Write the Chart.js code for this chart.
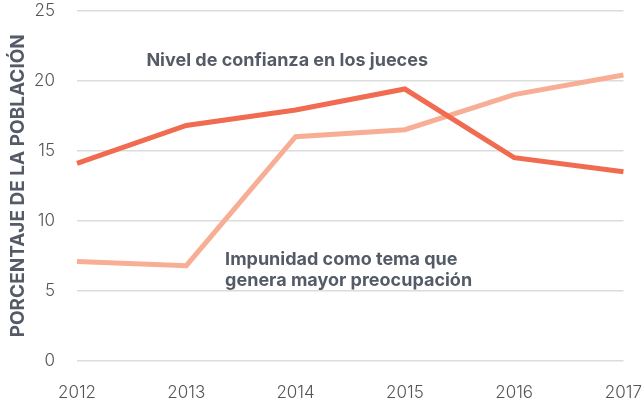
<!DOCTYPE html>
<html>
<head>
<meta charset="utf-8">
<script src="https://cdn.jsdelivr.net/npm/chart.js@4"></script>
<style>
  html, body { margin: 0; padding: 0; background: #fff; }
  #wrap { width: 643px; height: 405px; }
</style>
</head>
<body>
<div id="wrap"><canvas id="myChart" width="643" height="405"></canvas></div>
<script>
const years = ["2012", "2013", "2014", "2015", "2016", "2017"];
const confianzaJueces = [14.1, 16.8, 17.9, 19.4, 14.5, 13.5];
const impunidad = [7.1, 6.8, 16.0, 16.5, 19.0, 20.4];
const yTicks = [0, 5, 10, 15, 20, 25];

const textGray = "#555b66";
const tickFont = { family: "Inter, 'Noto Sans', sans-serif", size: 17, weight: 300, lineHeight: 1 };

// labels written next to each line, placed in data/area coordinates
const notes = [
  { lines: ["Nivel de confianza en los jueces"], xFrac: 0.127, y: 21.45 },
  { lines: ["Impunidad como tema que", "genera mayor preocupación"], xFrac: 0.271, y: 7.2 },
];

const notePlugin = {
  id: "notes",
  afterDatasetsDraw(chart) {
    const { ctx, chartArea, scales } = chart;
    ctx.save();
    ctx.font = "bold 18px Inter, 'Noto Sans', sans-serif";
    ctx.fillStyle = textGray;
    ctx.textAlign = "left";
    ctx.textBaseline = "middle";
    notes.forEach((n) => {
      const x = chartArea.left + n.xFrac * (chartArea.right - chartArea.left);
      const y0 = scales.y.getPixelForValue(n.y);
      n.lines.forEach((line, i) => ctx.fillText(line, x, y0 + i * 21));
    });
    ctx.restore();
  },
};

new Chart(document.getElementById("myChart").getContext("2d"), {
  type: "line",
  data: {
    labels: years,
    datasets: [
      {
        label: "Nivel de confianza en los jueces",
        data: confianzaJueces,
        borderColor: "#f06b4f",
        borderWidth: 5,
        pointRadius: 0,
        tension: 0,
        fill: false,
      },
      {
        label: "Impunidad como tema que genera mayor preocupación",
        data: impunidad,
        borderColor: "#f7ae95",
        borderWidth: 5,
        pointRadius: 0,
        tension: 0,
        fill: false,
      },
    ],
  },
  options: {
    responsive: false,
    animation: false,
    layout: { padding: { top: 0, left: 4, right: 0, bottom: 0 } },
    plugins: { legend: { display: false }, tooltip: { enabled: false } },
    scales: {
      x: {
        offset: false,
        // invisible tick marks push the year labels down without adding side padding
        grid: { display: true, drawOnChartArea: false, drawTicks: true, tickLength: 22, tickColor: "transparent" },
        border: { display: false },
        afterFit(axis) {
          axis.height = 44;
        },
        ticks: { color: "#555", padding: 1, maxRotation: 0, font: tickFont },
      },
      y: {
        min: 0,
        max: 25,
        afterBuildTicks(axis) {
          axis.ticks = yTicks.map((v) => ({ value: v }));
        },
        afterFit(axis) {
          axis.width = 73;
        },
        grid: { color: "#dcdcdc", lineWidth: 1.5, drawTicks: true, tickLength: 20, tickColor: "transparent" },
        border: { display: false },
        ticks: { color: "#555", padding: 2, font: tickFont },
        title: {
          display: true,
          text: "PORCENTAJE DE LA POBLACIÓN",
          color: textGray,
          padding: { top: 3, bottom: 4 },
          font: { family: "Inter, 'Noto Sans', sans-serif", size: 19, weight: "bold" },
        },
      },
    },
  },
  plugins: [notePlugin],
});
</script>
</body>
</html>
